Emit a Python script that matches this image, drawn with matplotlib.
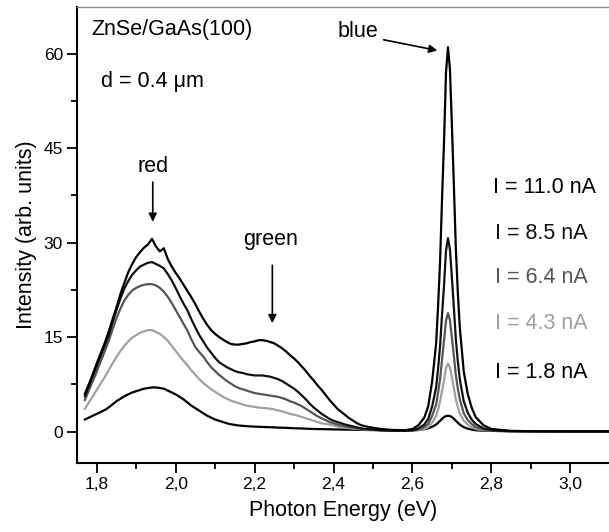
"""Cathodoluminescence spectra of ZnSe/GaAs(100) at several beam currents."""

import matplotlib

matplotlib.use("Agg")
import matplotlib.pyplot as plt
from matplotlib.ticker import MultipleLocator, FixedLocator

plt.rcParams["font.family"] = ["Liberation Sans", "DejaVu Sans"]

# photon energy (eV): broad red/green band, then the narrow blue band
energy_broad = [
    1.77, 1.78, 1.79, 1.80, 1.81, 1.82, 1.83, 1.84, 1.85, 1.86,
    1.87, 1.88, 1.89, 1.90, 1.91, 1.92, 1.93, 1.94, 1.95, 1.96,
    1.97, 1.98, 1.99, 2.00, 2.01, 2.02, 2.03, 2.04, 2.05, 2.06,
    2.07, 2.08, 2.09, 2.10, 2.11, 2.12, 2.13, 2.14, 2.15, 2.16,
    2.17, 2.18, 2.19, 2.20, 2.21, 2.22, 2.23, 2.24, 2.25, 2.26,
    2.27, 2.28, 2.29, 2.30, 2.31, 2.32, 2.33, 2.34, 2.35, 2.36,
    2.37, 2.38, 2.39, 2.40, 2.41, 2.42, 2.43, 2.44, 2.45, 2.46,
    2.47, 2.48, 2.49, 2.52, 2.55, 2.58,
]
energy_blue = [
    2.60, 2.615, 2.63, 2.64, 2.65, 2.66, 2.665, 2.67, 2.675, 2.68,
    2.685, 2.69, 2.695, 2.70, 2.705, 2.71, 2.715, 2.72, 2.73, 2.74,
    2.75, 2.76, 2.78, 2.80, 2.85, 2.90, 2.95, 3.00, 3.05, 3.10,
]

# I = 11.0 nA
i_11_0_broad = [
    6.0, 7.5, 9.1, 10.8, 12.4, 14.0, 15.8, 17.8, 19.7, 21.8,
    23.6, 25.3, 26.6, 27.7, 28.5, 29.2, 29.7, 30.6, 29.4, 28.6,
    29.1, 27.4, 26.2, 25.2, 24.3, 23.3, 22.3, 21.3, 20.2, 19.0,
    17.9, 16.9, 16.1, 15.5, 15.0, 14.6, 14.2, 13.9, 13.8, 13.8,
    13.9, 14.0, 14.2, 14.3, 14.5, 14.5, 14.4, 14.2, 14.0, 13.6,
    13.2, 12.7, 12.1, 11.6, 11.0, 10.3, 9.6, 8.8, 8.1, 7.3,
    6.6, 5.8, 5.0, 4.3, 3.6, 3.1, 2.6, 2.1, 1.7, 1.3,
    1.0, 0.85, 0.7, 0.4, 0.25, 0.2,
]
i_11_0_blue = [
    0.4, 1.0, 2.2, 4.0, 8.0, 14.0, 20.0, 27.0, 37.0, 46.0,
    57.0, 61.0, 57.5, 48.5, 39.0, 29.0, 22.0, 16.5, 9.5, 6.0,
    3.8, 2.3, 1.0, 0.4, 0.1, 0.05, 0.03, 0.02, 0.02, 0.02,
]
# I = 8.5 nA
i_8_5_broad = [
    5.6, 7.2, 8.8, 10.4, 12.0, 13.6, 15.2, 17.3, 19.3, 21.1,
    22.7, 23.9, 24.9, 25.6, 26.2, 26.5, 26.8, 26.9, 26.6, 26.3,
    25.9, 25.0, 24.0, 22.8, 21.5, 20.3, 19.2, 17.8, 16.5, 15.3,
    14.3, 13.3, 12.5, 11.7, 11.0, 10.6, 10.2, 9.9, 9.6, 9.4,
    9.3, 9.1, 9.0, 8.9, 8.9, 8.9, 8.8, 8.7, 8.5, 8.3,
    8.0, 7.6, 7.2, 6.8, 6.3, 5.7, 5.1, 4.4, 3.8, 3.3,
    2.8, 2.4, 2.0, 1.7, 1.5, 1.3, 1.1, 0.95, 0.8, 0.65,
    0.5, 0.42, 0.35, 0.2, 0.12, 0.12,
]
i_8_5_blue = [
    0.2, 0.5, 1.1, 2.0, 4.0, 7.0, 10.0, 13.6, 18.6, 23.2,
    28.7, 30.7, 28.9, 24.4, 19.6, 14.6, 11.1, 8.3, 4.8, 3.0,
    1.9, 1.2, 0.5, 0.2, 0.05, 0.03, 0.02, 0.02, 0.02, 0.02,
]
# I = 6.4 nA
i_6_4_broad = [
    5.0, 6.5, 8.0, 9.5, 11.1, 12.7, 14.3, 16.2, 18.0, 19.5,
    20.8, 21.7, 22.4, 22.8, 23.1, 23.3, 23.4, 23.4, 23.2, 22.8,
    22.2, 21.4, 20.4, 19.3, 18.2, 17.1, 16.0, 14.6, 13.4, 12.6,
    11.9, 11.0, 10.2, 9.6, 9.0, 8.5, 8.0, 7.6, 7.2, 6.9,
    6.7, 6.5, 6.3, 6.1, 6.0, 5.9, 5.8, 5.7, 5.6, 5.5,
    5.3, 5.1, 4.8, 4.6, 4.3, 4.0, 3.6, 3.2, 2.8, 2.4,
    2.1, 1.8, 1.5, 1.3, 1.1, 0.95, 0.8, 0.7, 0.6, 0.5,
    0.4, 0.35, 0.3, 0.2, 0.12, 0.1,
]
i_6_4_blue = [
    0.15, 0.3, 0.7, 1.2, 2.5, 4.3, 6.2, 8.3, 11.4, 14.5,
    17.6, 18.8, 17.7, 14.9, 12.0, 8.9, 6.8, 5.1, 2.9, 1.8,
    1.2, 0.7, 0.3, 0.12, 0.04, 0.02, 0.02, 0.02, 0.02, 0.02,
]
# I = 4.3 nA
i_4_3_broad = [
    3.6, 4.6, 5.6, 6.6, 7.6, 8.6, 9.7, 10.8, 11.8, 12.8,
    13.6, 14.3, 14.9, 15.3, 15.7, 15.9, 16.1, 16.1, 15.8, 15.5,
    15.0, 14.4, 13.6, 12.8, 12.0, 11.2, 10.5, 9.7, 9.0, 8.3,
    7.7, 7.2, 6.7, 6.3, 5.9, 5.5, 5.2, 4.9, 4.7, 4.5,
    4.3, 4.1, 4.0, 3.9, 3.8, 3.75, 3.7, 3.6, 3.5, 3.35,
    3.2, 3.0, 2.8, 2.65, 2.5, 2.3, 2.1, 1.9, 1.7, 1.5,
    1.3, 1.2, 1.1, 0.95, 0.8, 0.7, 0.6, 0.52, 0.45, 0.4,
    0.35, 0.3, 0.25, 0.18, 0.12, 0.1,
]
i_4_3_blue = [
    0.1, 0.2, 0.4, 0.7, 1.4, 2.5, 3.5, 4.8, 6.5, 8.1,
    10.1, 10.8, 10.2, 8.6, 6.9, 5.1, 3.9, 2.9, 1.7, 1.1,
    0.7, 0.4, 0.2, 0.1, 0.04, 0.02, 0.02, 0.02, 0.02, 0.02,
]
# I = 1.8 nA
i_1_8_broad = [
    1.9, 2.2, 2.5, 2.8, 3.1, 3.4, 3.8, 4.3, 4.8, 5.2,
    5.6, 5.9, 6.2, 6.4, 6.6, 6.8, 6.9, 7.0, 7.0, 6.9,
    6.8, 6.5, 6.2, 5.9, 5.5, 5.1, 4.6, 4.1, 3.7, 3.3,
    2.9, 2.5, 2.2, 1.9, 1.7, 1.5, 1.3, 1.15, 1.05, 0.95,
    0.9, 0.85, 0.8, 0.78, 0.75, 0.72, 0.7, 0.68, 0.65, 0.62,
    0.6, 0.58, 0.55, 0.52, 0.5, 0.48, 0.45, 0.42, 0.4, 0.39,
    0.38, 0.36, 0.35, 0.34, 0.32, 0.31, 0.3, 0.29, 0.28, 0.27,
    0.26, 0.25, 0.24, 0.22, 0.2, 0.2,
]
i_1_8_blue = [
    0.2, 0.25, 0.35, 0.5, 0.75, 1.1, 1.4, 1.7, 2.0, 2.3,
    2.45, 2.5, 2.45, 2.3, 2.0, 1.7, 1.4, 1.1, 0.7, 0.45,
    0.3, 0.2, 0.12, 0.1, 0.06, 0.04, 0.03, 0.03, 0.03, 0.03,
]

current_labels = ["I = 11.0 nA", "I = 8.5 nA", "I = 6.4 nA", "I = 4.3 nA", "I = 1.8 nA"]
line_colors = ["#000000", "#111111", "#555555", "#a0a0a0", "#000000"]

x_ticks = [1.8, 2.0, 2.2, 2.4, 2.6, 2.8, 3.0]
x_tick_labels = ["1,8", "2,0", "2,2", "2,4", "2,6", "2,8", "3,0"]
y_ticks = [0, 15, 30, 45, 60]

energy = energy_broad + energy_blue
spectra = [
    i_11_0_broad + i_11_0_blue,
    i_8_5_broad + i_8_5_blue,
    i_6_4_broad + i_6_4_blue,
    i_4_3_broad + i_4_3_blue,
    i_1_8_broad + i_1_8_blue,
]
for values in spectra:
    assert len(values) == len(energy), len(values)

fig = plt.figure(figsize=(6.09, 5.32), dpi=100)
ax = fig.add_axes([0.1264, 0.1297, 0.8736, 0.8571])

# draw dimmest first so the bright spectra sit on top
for values, color in zip(spectra[::-1], line_colors[::-1]):
    ax.plot(energy, values, color=color, lw=1.6, solid_joinstyle="round")

ax.set_xlim(1.75, 3.098)
ax.set_ylim(-5, 67.4)
ax.xaxis.set_major_locator(FixedLocator(x_ticks))
ax.set_xticklabels(x_tick_labels)
ax.xaxis.set_minor_locator(MultipleLocator(0.1))
ax.yaxis.set_major_locator(FixedLocator(y_ticks))
ax.yaxis.set_minor_locator(MultipleLocator(7.5))
ax.tick_params(which="both", direction="out", width=1.3, labelsize=12.5, pad=3)
ax.tick_params(which="major", length=7)
ax.tick_params(which="minor", length=4)

for side in ("left", "bottom"):
    ax.spines[side].set_linewidth(1.5)
ax.spines["top"].set_color("#888888")
ax.spines["top"].set_linewidth(1.0)
ax.spines["right"].set_visible(False)

ax.set_xlabel("Photon Energy (eV)", fontsize=15.5, labelpad=6)
ax.set_ylabel("Intensity (arb. units)", fontsize=15.5, labelpad=5)

ax.text(1.787, 63.8, "ZnSe/GaAs(100)", fontsize=15.5, ha="left", va="center")
ax.text(1.810, 55.5, "d = 0.4 \u03bcm", fontsize=15.5, ha="left", va="center")

arrow = dict(arrowstyle="-|>", color="black", lw=1.2, mutation_scale=12,
             shrinkA=0, shrinkB=0)
ax.text(1.942, 42.0, "red", fontsize=15.5, ha="center", va="center")
ax.annotate("", xy=(1.942, 33.3), xytext=(1.942, 39.6), arrowprops=arrow)
ax.text(2.240, 30.5, "green", fontsize=15.5, ha="center", va="center")
ax.annotate("", xy=(2.245, 17.2), xytext=(2.245, 26.4), arrowprops=arrow)
ax.text(2.461, 63.5, "blue", fontsize=15.5, ha="center", va="center")
ax.annotate("", xy=(2.663, 60.5), xytext=(2.527, 62.2), arrowprops=arrow)

label_x = [2.805, 2.810, 2.810, 2.810, 2.810]
label_y = [38.7, 31.5, 24.5, 17.2, 9.4]
for text, color, lx, ly in zip(current_labels, line_colors, label_x, label_y):
    ax.text(lx, ly, text, fontsize=15.5, color=color, ha="left", va="center")

fig.savefig("out.png", dpi=100)
